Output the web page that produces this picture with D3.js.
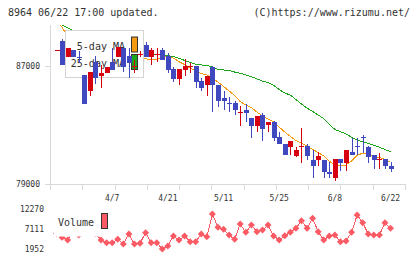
<!DOCTYPE html>
<html>
<head>
<meta charset="utf-8">
<script src="https://cdn.jsdelivr.net/npm/d3@7"></script>
<style>
  body { margin: 0; background: #fff; }
  text { font-family: "DejaVu Sans Mono", monospace; fill: #333; }
</style>
</head>
<body>
<div id="chart"></div>
<script>
// trading days shown on the chart
let dates = ["3/24","3/25","3/26","3/27","3/30","3/31","4/1","4/2","4/3","4/6",
  "4/7","4/8","4/9","4/10","4/13","4/14","4/15","4/16","4/17","4/20",
  "4/21","4/22","4/23","4/24","4/27","4/28","4/30","5/1","5/7","5/8",
  "5/11","5/12","5/13","5/14","5/15","5/18","5/19","5/20","5/21","5/22",
  "5/25","5/26","5/27","5/28","5/29","6/1","6/2","6/3","6/4","6/5",
  "6/8","6/9","6/10","6/11","6/12","6/15","6/16","6/17","6/18","6/19","6/22"];

let open = [88100,88700,87600,88100,87600,86400,85300,87300,86300,86500,
  87300,87600,88200,87700,87000,87800,88400,87600,87800,88100,
  87700,86800,86100,86700,87000,87000,86000,85700,86900,85700,
  84800,84500,84500,83900,84000,83500,82900,83700,83000,83200,
  82200,81700,81500,80900,81600,81600,80600,80600,80600,79800,
  79400,80700,80400,81200,81600,82200,81500,81000,80700,80700,80200];

let high = [88100,88800,88200,88100,88000,86400,86600,87700,87100,86900,
  88200,88300,88200,88200,87400,88000,88600,88200,88200,88200,
  87900,86900,86800,87500,87200,87000,86200,86300,87000,85700,
  85300,84900,84600,84300,84400,83500,83600,83800,83200,83300,
  82500,81700,81900,81500,82800,81700,81300,81200,80600,80500,
  80700,80700,81300,82100,82100,82300,81600,81000,81100,80700,80500];

let low = [88100,87100,87600,87600,87200,84400,85000,85800,85500,86500,
  86700,87600,86600,86200,86500,87600,87600,87100,87300,87400,
  86500,85900,85700,86300,86500,85500,85300,85000,83900,84200,
  84000,83900,83700,82900,83200,82100,82500,81900,82500,81900,
  81700,81000,81000,80800,80400,80600,79400,80200,79400,79400,
  79200,79900,79900,81000,81000,81100,80400,80000,80000,80000,79800];

let close = [88100,87100,88200,87600,87550,84400,86600,86200,86500,86900,
  86700,88300,86900,87200,87000,87800,87600,88100,87800,87400,
  86700,86100,86800,87000,87000,85900,85500,86300,85700,84600,
  84600,84400,84000,83900,83800,82900,83600,82700,83200,82100,
  81700,81000,81900,81300,81600,80900,80200,80900,79800,79700,
  80700,80400,81300,81000,81500,82100,80800,80600,80700,80200,80000];

// moving averages
let ma5 = [90000,89650,88950,88300,87700,87000,86800,86550,86350,86200,
  86250,86700,87000,87200,87300,87400,87500,87400,87440,87610,
  87680,87540,87290,87100,86860,86660,86490,86390,86190,85920,
  85610,85310,85000,84590,84360,84190,83880,83610,83410,83200,
  82860,82530,82220,81950,81780,81580,81340,81140,80900,80560,
  80250,80240,80290,80560,80930,81100,81000,80860,80800,80660,80460];

let ma25 = [89980,89790,89580,89410,89240,89070,88930,88800,88660,88530,
  88390,88290,88190,88090,87980,87920,87860,87810,87780,87750,
  87700,87650,87530,87380,87240,87120,87070,87040,86930,86780,
  86730,86700,86590,86510,86390,86280,86120,85980,85880,85680,
  85410,85170,85030,84730,84420,84150,83920,83680,83440,83040,
  82700,82550,82390,82170,81980,81850,81750,81630,81490,81340,81190];

let volume = [6000,5000,4330,7000,5610,8000,7000,6000,4330,3640,
  3640,4510,3310,5870,3310,3490,6200,3640,3640,2030,
  2800,5360,4330,5360,3900,3900,5870,5180,10990,7585,
  7070,5610,4510,8430,6300,8170,6460,6890,8170,5360,
  4330,5430,6300,7330,9280,7330,9890,6460,4330,5360,
  5610,3900,4080,6300,10730,8760,5870,5610,5610,8760,7330];

let priceTicks = [79000, 87000];
let volumeTicks = [1952, 7111, 12270];
let dateLabels = ["4/7","4/21","5/11","5/25","6/8","6/22"];

let width = 420, height = 259;
let plot = {left: 50, right: 405, top: 25, bottom: 184};

let svg = d3.select("#chart")
  .append("svg")
    .attr("width", width)
    .attr("height", height)
    .style("display", "block");

svg.append("rect")
  .attr("width", width)
  .attr("height", height)
  .style("fill", "#fff");

// scales
let x = d3.scaleLinear()
  .domain([-1.17, dates.length + 1.6])
  .range([plot.left, plot.right]);

let y = d3.scaleLinear()
  .domain([79000, 87000])
  .range([184, 66]);

let yv = d3.scaleLinear()
  .domain([1952, 12270])
  .range([249.3, 209]);

// grid divisions along the bottom axis
let gridX = d3.scaleLinear().domain([0, 11]).range([plot.left, plot.right]);

// header texts
svg.append("text")
  .attr("x", 8)
  .attr("y", 16)
  .style("font-size", "10px")
  .text("8964 06/22 17:00 updated.");

svg.append("text")
  .attr("x", 410)
  .attr("y", 16)
  .attr("text-anchor", "end")
  .style("font-size", "10px")
  .text("(C)https://www.rizumu.net/");

// axes
let axis = svg.append("g")
  .style("stroke", "#d9d9d9")
  .style("stroke-width", 1)
  .attr("shape-rendering", "crispEdges");

axis.append("line")
  .attr("x1", plot.left + 0.5).attr("x2", plot.left + 0.5)
  .attr("y1", plot.top).attr("y2", plot.bottom + 6);

axis.append("line")
  .attr("x1", plot.left - 5).attr("x2", plot.right + 0.5)
  .attr("y1", plot.bottom + 0.5).attr("y2", plot.bottom + 0.5);

axis.selectAll(".xtick")
  .data(d3.range(12))
  .enter().append("line")
    .attr("x1", d => Math.round(gridX(d)) + 0.5)
    .attr("x2", d => Math.round(gridX(d)) + 0.5)
    .attr("y1", plot.bottom)
    .attr("y2", plot.bottom + 6);

axis.selectAll(".ytick")
  .data(priceTicks)
  .enter().append("line")
    .attr("x1", plot.left - 5)
    .attr("x2", plot.left)
    .attr("y1", d => Math.round(y(d)) + 0.5)
    .attr("y2", d => Math.round(y(d)) + 0.5);

svg.selectAll(".ylabel")
  .data(priceTicks)
  .enter().append("text")
    .attr("x", 40)
    .attr("y", d => y(d) + 3)
    .attr("text-anchor", "end")
    .style("font-size", "8px")
    .text(d => d);

svg.selectAll(".xlabel")
  .data(dateLabels)
  .enter().append("text")
    .attr("x", d => x(dates.indexOf(d)))
    .attr("y", 201)
    .attr("text-anchor", "middle")
    .style("font-size", "8px")
    .text(d => d);

// moving average lines, clipped to the plot area
svg.append("clipPath")
  .attr("id", "plotclip")
  .append("rect")
    .attr("x", plot.left)
    .attr("y", plot.top)
    .attr("width", plot.right - plot.left)
    .attr("height", plot.bottom - plot.top);

let lineGen = d3.line()
  .x((d, i) => x(i))
  .y(d => y(d));

svg.append("path")
  .datum(ma25)
  .attr("clip-path", "url(#plotclip)")
  .attr("fill", "none")
  .attr("stroke", "#1aa81a")
  .attr("stroke-width", 1)
  .attr("shape-rendering", "crispEdges")
  .attr("d", lineGen);

svg.append("path")
  .datum(ma5)
  .attr("clip-path", "url(#plotclip)")
  .attr("fill", "none")
  .attr("stroke", "#f39a10")
  .attr("stroke-width", 1)
  .attr("shape-rendering", "crispEdges")
  .attr("d", lineGen);

// legend box (sits above the lines, below the candles)
let legend = svg.append("g");
legend.append("rect")
  .attr("x", 65.5).attr("y", 30.5)
  .attr("width", 78).attr("height", 47)
  .style("fill", "#fff")
  .style("stroke", "#d4d4d4");

legend.append("text")
  .attr("x", 125).attr("y", 50)
  .attr("text-anchor", "end")
  .style("font-size", "10px")
  .text("5-day MA");

legend.append("text")
  .attr("x", 125).attr("y", 67)
  .attr("text-anchor", "end")
  .style("font-size", "10px")
  .text("25-day MA");

legend.append("rect")
  .attr("x", 131.5).attr("y", 37)
  .attr("width", 6).attr("height", 15)
  .style("fill", "#f39a10")
  .style("stroke", "#333");

legend.append("rect")
  .attr("x", 131.5).attr("y", 54.5)
  .attr("width", 6).attr("height", 15)
  .style("fill", "#1aa81a")
  .style("stroke", "#333");

// candles
let candles = svg.append("g").attr("shape-rendering", "crispEdges");
let idx = d3.range(dates.length);

let colorOf = i => close[i] >= open[i] ? "#d7000f" : "#3f48bf";

candles.selectAll(".wick")
  .data(idx)
  .enter().append("line")
    .attr("x1", i => Math.round(x(i)) + 0.5)
    .attr("x2", i => Math.round(x(i)) + 0.5)
    .attr("y1", i => y(high[i]))
    .attr("y2", i => y(low[i]))
    .style("stroke", colorOf)
    .style("stroke-width", 1);

candles.selectAll(".body")
  .data(idx)
  .enter().append("rect")
    .attr("x", i => Math.round(x(i)) - 2)
    .attr("y", i => Math.min(y(open[i]), y(close[i])))
    .attr("width", 5)
    .attr("height", i => Math.max(1, Math.abs(y(open[i]) - y(close[i]))))
    .style("fill", colorOf);

// volume panel
svg.selectAll(".vlabel")
  .data(volumeTicks)
  .enter().append("text")
    .attr("x", 44)
    .attr("y", d => yv(d) + 3)
    .attr("text-anchor", "end")
    .style("font-size", "8px")
    .text(d => d);

let volLine = d3.line()
  .x((d, i) => x(i))
  .y(d => yv(d));

svg.append("path")
  .datum(volume)
  .attr("fill", "none")
  .attr("stroke", "#fa5a64")
  .attr("stroke-width", 1)
  .attr("shape-rendering", "crispEdges")
  .attr("d", volLine);

svg.selectAll(".vpoint")
  .data(volume)
  .enter().append("path")
    .attr("d", d3.symbol(d3.symbolSquare, 24))
    .attr("transform", (d, i) => "translate(" + x(i) + "," + yv(d) + ") rotate(45)")
    .style("fill", "#fa5a64");

// volume legend
svg.append("rect")
  .attr("x", 54).attr("y", 205)
  .attr("width", 58).attr("height", 31.5)
  .style("fill", "#fff");

svg.append("text")
  .attr("x", 58).attr("y", 226)
  .style("font-size", "10px")
  .text("Volume");

svg.append("rect")
  .attr("x", 101.5).attr("y", 213.5)
  .attr("width", 6).attr("height", 15)
  .style("fill", "#fa5a64")
  .style("stroke", "#333");
</script>
</body>
</html>
